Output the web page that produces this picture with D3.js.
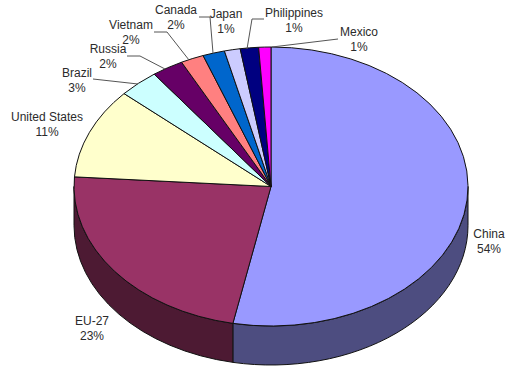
<!DOCTYPE html>
<html>
<head>
<meta charset="utf-8">
<script src="https://cdn.jsdelivr.net/npm/d3@7/dist/d3.min.js"></script>
<style>
html,body{margin:0;padding:0;background:#fff}
svg{display:block}
text{font-family:"Liberation Sans",Arial,sans-serif;font-size:12px;fill:#2b2b2b;text-anchor:middle}
</style>
</head>
<body>
<svg id="c" width="519" height="381"></svg>
<script>
const categories = ["China","EU-27","United States","Brazil","Russia","Vietnam","Canada","Japan","Philippines","Mexico"];
const shares = [53.1,23.0,10.5,3.3,2.6,1.9,1.8,1.3,1.5,1.0];
const percentLabels = ["54%","23%","11%","3%","2%","2%","2%","1%","1%","1%"];
const topColors = ["#9999ff","#993366","#ffffcc","#ccffff","#660066","#ff8080","#0066cc","#ccccff","#000080","#ff00ff"];
const wallColors = ["#4d4d80","#4d1a33","#80805f","#668080","#330033","#804040","#003366","#666680","#000040","#800080"];
const labelX = [489,92,47,77,108,131,176,226,294,359];
const labelY = [234,321,117,73,49,25,10,14,13,32];
// leader geometry: elbow points in page px; the end is on the slice rim
const leaderPaths = [null,null,null,
  [[93,79],[138,84]],
  [[127,56],[140,56],[165,69]],
  [[154,32],[167,32],[189,60]],
  [[199,17],[210,17],[213,53]],
  null,
  [[264,19],[252,19],[247,49]],
  [[338,39],[272,47]]];

const W = 519, H = 381, cx = 271, cy = 186.5, rx = 197, ry = 139.5, depth = 39;
const svg = d3.select("#c");
const pie = d3.pie().value(d => d).sort(null).startAngle(0).endAngle(2*Math.PI);
const arcs = pie(shares);
const px = a => cx + rx*Math.sin(a), py = a => cy - ry*Math.cos(a);

// side walls: only the front half of the cylinder is visible
const frontA = Math.PI/2, frontB = 3*Math.PI/2;
const wall = svg.append("g");
arcs.forEach((d,i) => {
  const a = Math.max(d.startAngle, frontA), b = Math.min(d.endAngle, frontB);
  if (b <= a) return;
  const path = `M${px(a)},${py(a)} A${rx},${ry} 0 0 1 ${px(b)},${py(b)} L${px(b)},${py(b)+depth} A${rx},${ry} 0 0 0 ${px(a)},${py(a)+depth} Z`;
  wall.append("path").attr("d",path).attr("fill",wallColors[i]).attr("stroke","#111").attr("stroke-width",1).attr("stroke-linejoin","round");
});

// top face
const arc = d3.arc().innerRadius(0).outerRadius(rx);
svg.append("g").attr("transform",`translate(${cx},${cy}) scale(1,${ry/rx})`)
  .selectAll("path").data(arcs).join("path")
  .attr("d",arc).attr("fill",(d,i)=>topColors[i])
  .attr("stroke","#111").attr("stroke-width",1).attr("vector-effect","non-scaling-stroke").attr("stroke-linejoin","round");

// leaders
const line = d3.line();
svg.append("g").selectAll("path").data(leaderPaths.filter(Boolean)).join("path")
  .attr("d",line).attr("fill","none").attr("stroke","#555").attr("stroke-width",1);

// labels
const lab = svg.append("g").selectAll("text").data(categories).join("text")
  .attr("x",(d,i)=>labelX[i]).attr("y",(d,i)=>labelY[i]+4);
lab.append("tspan").text(d=>d);
lab.append("tspan").attr("x",(d,i)=>labelX[i]).attr("dy",14.5).text((d,i)=>percentLabels[i]);
</script>
</body>
</html>
